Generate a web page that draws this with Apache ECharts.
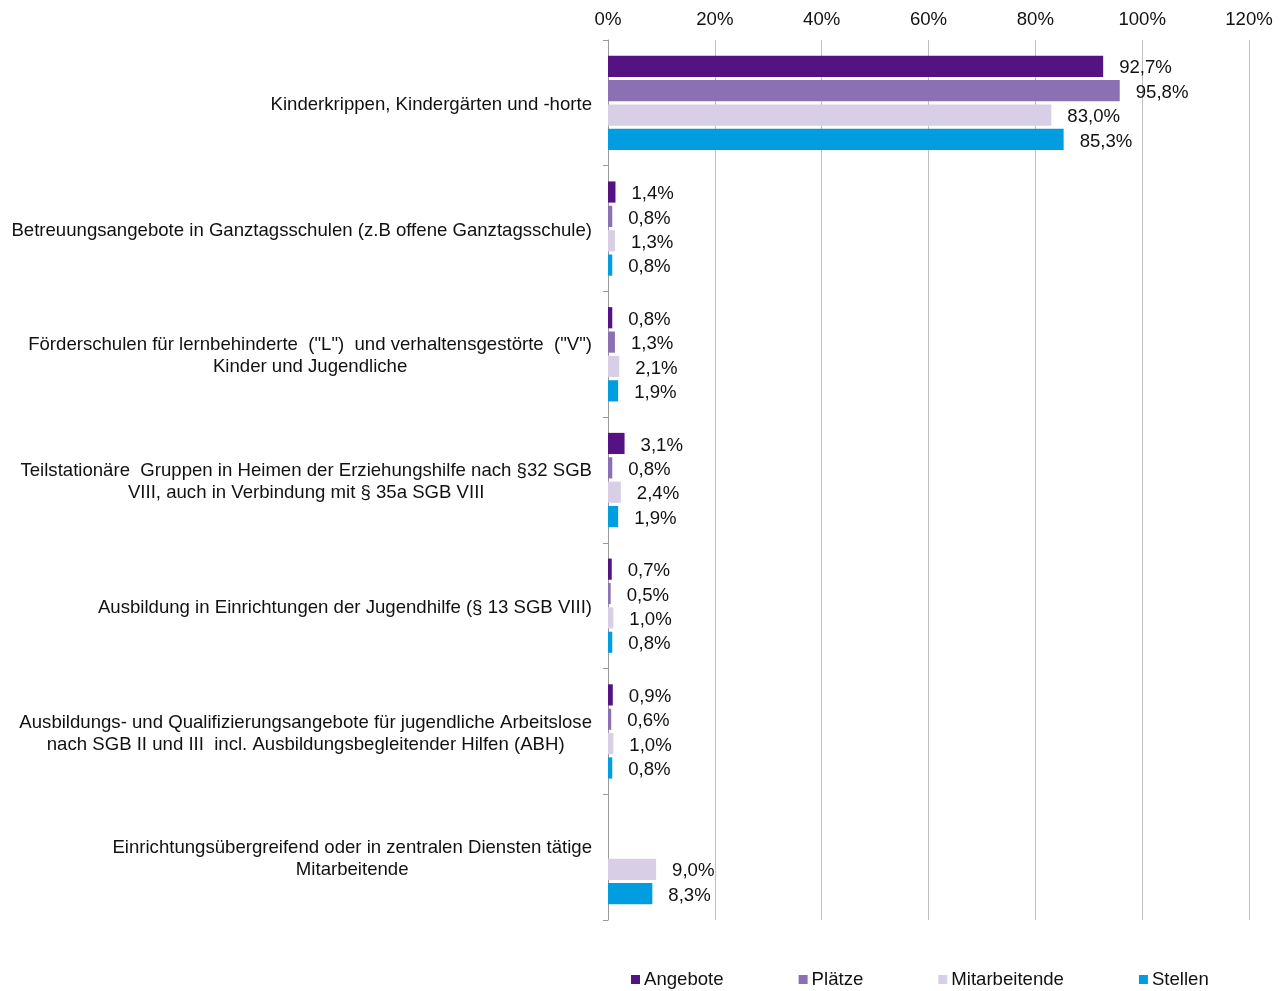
<!DOCTYPE html>
<html>
<head>
<meta charset="utf-8">
<script src="https://cdn.jsdelivr.net/npm/echarts@6/dist/echarts.min.js"></script>
<style>
  html, body { margin: 0; padding: 0; background: #fff; }
  #chart { width: 1282px; height: 991px; }
</style>
</head>
<body>
<div id="chart"></div>
<script>
const categories = [
  'Kinderkrippen, Kindergärten und -horte',
  'Betreuungsangebote in Ganztagsschulen (z.B offene Ganztagsschule)',
  'Förderschulen für lernbehinderte  ("L")  und verhaltensgestörte  ("V")\nKinder und Jugendliche',
  'Teilstationäre  Gruppen in Heimen der Erziehungshilfe nach §32 SGB\nVIII, auch in Verbindung mit § 35a SGB VIII',
  'Ausbildung in Einrichtungen der Jugendhilfe (§ 13 SGB VIII)',
  'Ausbildungs- und Qualifizierungsangebote für jugendliche Arbeitslose\nnach SGB II und III  incl. Ausbildungsbegleitender Hilfen (ABH)',
  'Einrichtungsübergreifend oder in zentralen Diensten tätige\nMitarbeitende'
]
const angebote = [92.7, 1.4, 0.8, 3.1, 0.7, 0.9, null]
const plaetze = [95.8, 0.8, 1.3, 0.8, 0.5, 0.6, null]
const mitarbeitende = [83.0, 1.3, 2.1, 2.4, 1.0, 1.0, 9.0]
const stellen = [85.3, 0.8, 1.9, 1.9, 0.8, 0.8, 8.3]
const seriesNames = ['Angebote', 'Plätze', 'Mitarbeitende', 'Stellen']
const colors = ['#551283', '#8b71b3', '#d8cfe6', '#009ee0']

const font = 'Liberation Sans, Arial, sans-serif'
const fs = 18.6
const chart = echarts.init(document.getElementById('chart'))

function makeSeries(name, data, i) {
  return {
    name: name,
    type: 'bar',
    data: data,
    barCategoryGap: '25%',
    barGap: '15%',
    itemStyle: { color: colors[i] },
    label: {
      show: true,
      position: 'right',
      distance: 16,
      offset: [0, 2],
      color: '#111',
      fontFamily: font,
      fontSize: fs,
      formatter: p => p.value == null ? '' : p.value.toFixed(1).replace('.', ',') + '%'
    }
  }
}

chart.setOption({
  animation: false,
  textStyle: { fontFamily: font },
  grid: { left: 608, right: 33, top: 40, bottom: 71 },
  legend: {
    bottom: -3,
    left: 626,
    icon: 'rect',
    itemWidth: 9,
    itemHeight: 9,
    itemGap: 75,
    textStyle: { fontSize: fs, color: '#111', fontFamily: font, padding: [0, 0, 0, -1] },
    data: seriesNames
  },
  xAxis: {
    type: 'value',
    position: 'top',
    min: 0,
    max: 120,
    interval: 20,
    axisLine: { show: false },
    axisTick: { show: false },
    axisLabel: { formatter: '{value}%', fontSize: fs, color: '#111', fontFamily: font, margin: 11 },
    splitLine: { lineStyle: { color: '#bfbfbf', width: 1 } }
  },
  yAxis: {
    type: 'category',
    inverse: true,
    data: categories,
    axisLine: { lineStyle: { color: '#9a9a9a' } },
    axisTick: { show: true, length: 5, lineStyle: { color: '#9a9a9a' } },
    axisLabel: {
      margin: 16,
      formatter: v => '{c|' + v + '}',
      rich: {
        c: { align: 'center', fontSize: fs, lineHeight: 22, padding: [4, 0, 0, 0], color: '#111', fontFamily: font }
      }
    }
  },
  series: [
    makeSeries(seriesNames[0], angebote, 0),
    makeSeries(seriesNames[1], plaetze, 1),
    makeSeries(seriesNames[2], mitarbeitende, 2),
    makeSeries(seriesNames[3], stellen, 3)
  ]
})
</script>
</body>
</html>
